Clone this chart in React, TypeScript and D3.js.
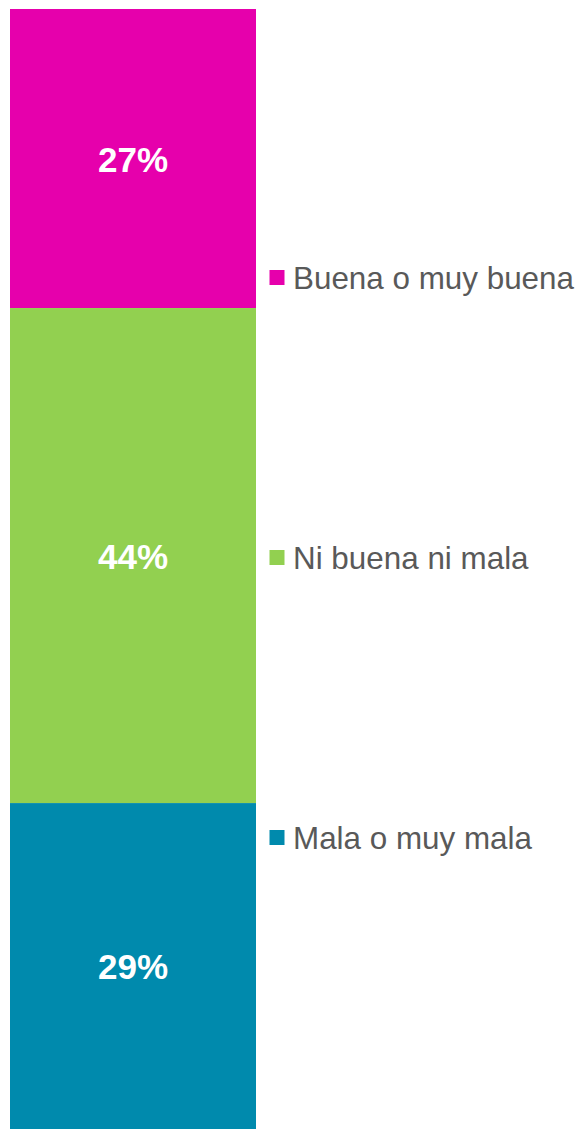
import React, { useEffect, useRef } from "react";
import * as d3 from "d3";

// top-to-bottom order of the stack
const categories = ["Buena o muy buena", "Ni buena ni mala", "Mala o muy mala"];
const values = [26.7, 44.2, 29.1];
const colors = ["#E600AC", "#92D050", "#008AAD"];

const width = 583;
const height = 1129;
const font = "'Liberation Sans', Arial, sans-serif";

export default function App() {
  const svgRef = useRef<SVGSVGElement | null>(null);

  useEffect(() => {
    const svg = d3.select(svgRef.current);
    svg.selectAll("*").remove();

    const total = d3.sum(values);
    const y = d3.scaleLinear().domain([0, total]).range([9, 1129]);
    const x = d3.scaleLinear().domain([0, 1]).range([10, 256]);
    const color = d3.scaleOrdinal<string, string>().domain(categories).range(colors);

    // cumulative offsets from top
    const starts = values.map((_, i) => d3.sum(values.slice(0, i)));
    const rows = categories.map((c, i) => ({ name: c, v: values[i], y0: starts[i], y1: starts[i] + values[i] }));

    const bars = svg.append("g");
    bars
      .selectAll("rect")
      .data(rows)
      .join("rect")
      .attr("x", x(0))
      .attr("width", x(1) - x(0))
      .attr("y", (d) => y(d.y0))
      .attr("height", (d) => y(d.y1) - y(d.y0))
      .attr("fill", (d) => color(d.name));

    const fmt = d3.format(".0f");
    bars
      .selectAll("text")
      .data(rows)
      .join("text")
      .attr("x", (x(0) + x(1)) / 2)
      .attr("y", (d) => (y(d.y0) + y(d.y1)) / 2 + 1)
      .attr("dy", "0.35em")
      .attr("text-anchor", "middle")
      .attr("fill", "#fff")
      .attr("font-family", font)
      .attr("font-weight", "bold")
      .attr("font-size", 35)
      .text((d) => fmt(d.v) + "%");

    // legend
    const ly = d3.scalePoint<string>().domain(categories).range([277.5, 837.5]);
    const leg = svg
      .append("g")
      .selectAll("g")
      .data(categories)
      .join("g")
      .attr("transform", (d) => `translate(269.5,${ly(d)})`);
    leg
      .append("rect")
      .attr("x", 0)
      .attr("y", -7.5)
      .attr("width", 15)
      .attr("height", 15)
      .attr("fill", (d) => color(d));
    leg
      .append("text")
      .attr("x", 23.5)
      .attr("y", 0)
      .attr("dy", "0.35em")
      .attr("fill", "#595959")
      .attr("font-family", font)
      .attr("font-size", 31.4)
      .text((d) => d);
  }, []);

  return (
    <div style={{ position: "absolute", left: 0, top: 0 }}>
      <svg ref={svgRef} width={width} height={height} style={{ display: "block" }} />
    </div>
  );
}
